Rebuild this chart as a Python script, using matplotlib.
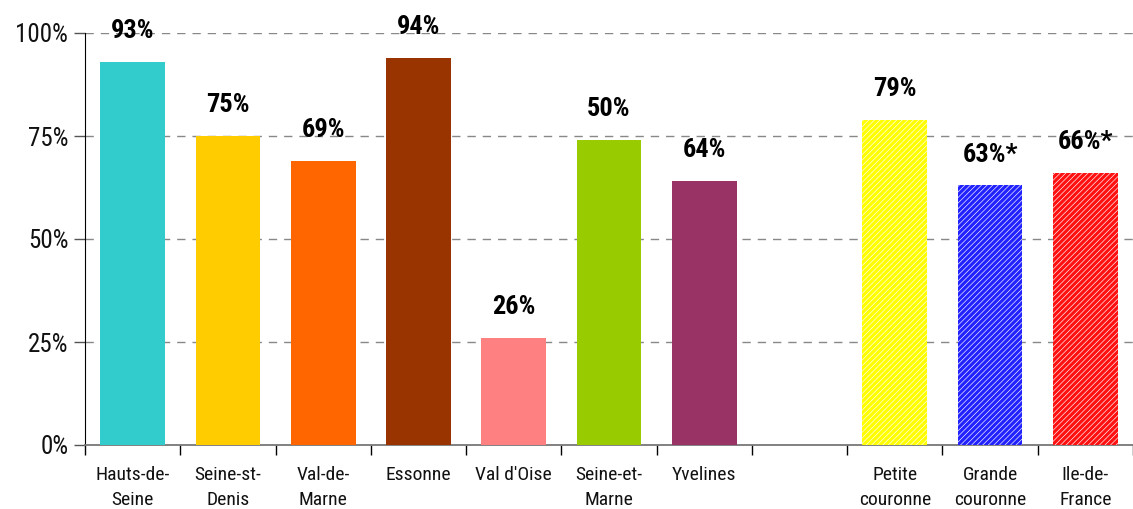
import matplotlib
matplotlib.use("Agg")
import matplotlib.pyplot as plt
from matplotlib import font_manager

categories = ["Hauts-de-\nSeine", "Seine-st-\nDenis", "Val-de-\nMarne", "Essonne", "Val d'Oise",
              "Seine-et-\nMarne", "Yvelines", "", "Petite\ncouronne", "Grande\ncouronne", "Ile-de-\nFrance"]
values = [93, 75, 69, 94, 26, 74, 64, None, 79, 63, 66]
value_labels = ["93%", "75%", "69%", "94%", "26%", "50%", "64%", "", "79%", "63%*", "66%*"]
colors = ["#33CCCC", "#FFCC00", "#FF6600", "#993300", "#FF8080", "#99CC00", "#993366", None,
          "#FFFF00", "#2222FF", "#FF1111"]
hatched = [False] * 8 + [True, True, True]
yticks = [0, 25, 50, 75, 100]
ytick_labels = ["0%", "25%", "50%", "75%", "100%"]

# look for a condensed sans face
entries = font_manager.fontManager.ttflist
fam, stretch, found = "Liberation Sans", "normal", False
for pref in ["Liberation Sans Narrow", "Arial Narrow", "Roboto Condensed", "Open Sans Condensed",
             "Noto Sans Condensed", "DejaVu Sans Condensed"]:
    if any(f.name == pref for f in entries):
        fam, found = pref, True
        break
if not found:
    for base in ["Noto Sans", "Roboto", "Open Sans", "DejaVu Sans", "Liberation Sans"]:
        st = [f.stretch for f in entries if f.name == base and "condensed" in str(f.stretch)]
        if st:
            fam, stretch, found = base, ("semi-condensed" if "semi-condensed" in st else st[0]), True
            break
plt.rcParams["font.family"] = [fam, "DejaVu Sans"]
plt.rcParams["font.stretch"] = stretch
plt.rcParams["savefig.bbox"] = "standard"
k = 1.0 if found else 0.88
plt.rcParams["hatch.linewidth"] = 0.45
plt.rcParams["hatch.color"] = "white"

W, H = 1133, 509
fig = plt.figure(figsize=(W / 100, H / 100), dpi=100)
ax = fig.add_axes([85 / W, (H - 445) / H, (W - 85) / W, 412 / H])

slot = 96.2
for i, (v, c, h) in enumerate(zip(values, colors, hatched)):
    if v is None:
        continue
    ax.bar(i, v, width=0.68, color=c, edgecolor="white" if h else c,
           linewidth=0, hatch="//////" if h else None, zorder=3)
    ax.text(i, v + 7.5, value_labels[i], ha="center", va="center",
            fontsize=19 * k, fontweight="bold", color="black", zorder=4)

ax.set_xlim(-0.5, -0.5 + (W - 85) / slot)
ax.set_ylim(0, 100)
ax.set_yticks(yticks)
ax.set_yticklabels(ytick_labels, fontsize=18 * k, color="#111111")
ax.set_xticks(range(len(categories)))
ax.set_xticklabels(categories, fontsize=14 * k, linespacing=1.5, color="#111111")
ax.set_xticks([i + 0.5 for i in range(-1, len(categories))], minor=True)
ax.tick_params(axis="x", which="major", length=0, pad=15)
ax.tick_params(axis="x", which="minor", length=7, width=1, color="black", direction="out")
ax.tick_params(axis="y", length=8, width=1, color="#555555", pad=4)

for y in yticks[1:]:
    ax.axhline(y, color="#888888", linewidth=1, linestyle=(0, (6, 5)), zorder=1)

for s in ["top", "right"]:
    ax.spines[s].set_visible(False)
ax.spines["left"].set_color("black")
ax.spines["bottom"].set_color("#777777")
ax.spines["bottom"].set_linewidth(1.3)

fig.savefig("out.png", dpi=100, bbox_inches=None)
